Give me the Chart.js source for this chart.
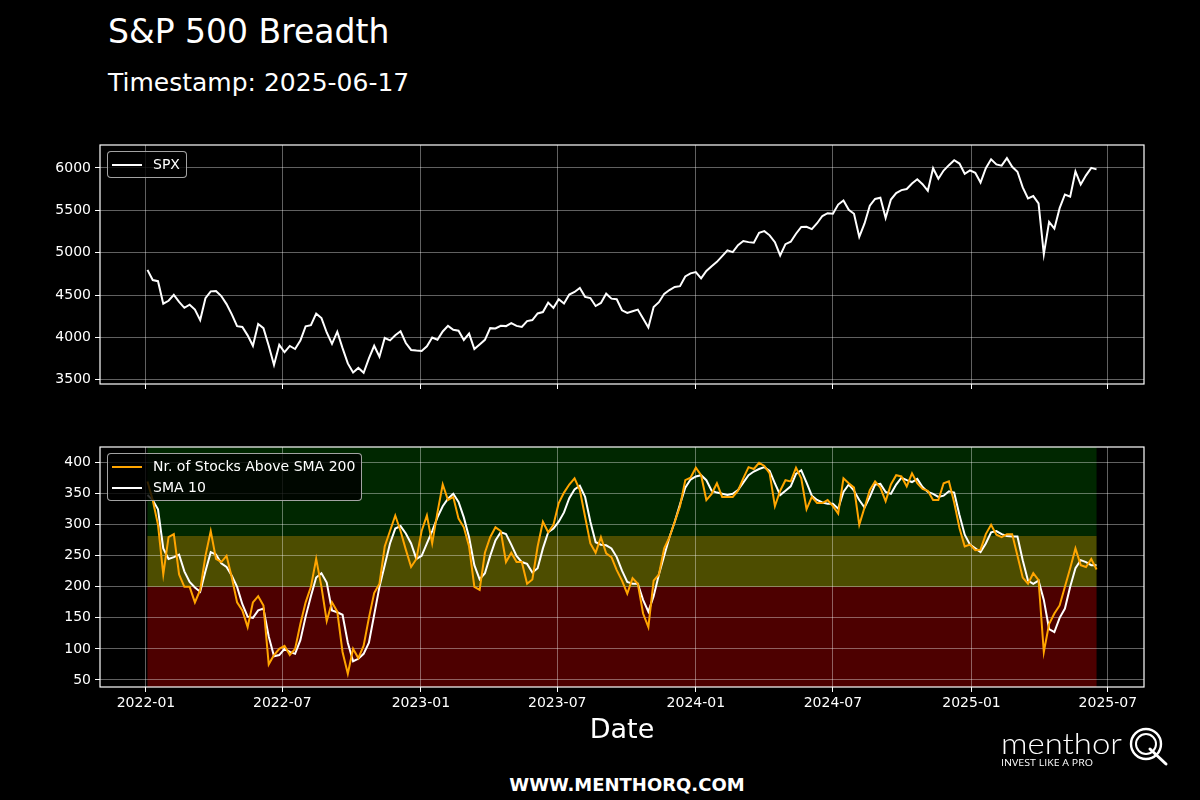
<!DOCTYPE html>
<html>
<head>
<meta charset="utf-8">
<title>S&P 500 Breadth</title>
<script src="https://cdn.jsdelivr.net/npm/chart.js@4.4.1/dist/chart.umd.min.js"></script>
<style>
    html, body { margin: 0; padding: 0; background: #000; }
    body { width: 1200px; height: 800px; position: relative; overflow: hidden; color: #fff; font-family: "DejaVu Sans", sans-serif; }
    .txt { position: absolute; white-space: nowrap; line-height: 1; }
    #title { left: 108px; top: 15px; font-size: 33px; }
    #stamp { left: 108px; top: 70px; font-size: 25px; }
    #xlabel { left: 0; width: 1244px; text-align: center; top: 715px; font-size: 27px; }
    #site { left: 0; width: 1254px; text-align: center; top: 776px; font-size: 18px; font-weight: bold; }
    canvas { position: absolute; left: 0; }
    #spxChart { top: 120px; }
    #breadthChart { top: 420px; }
    .legend { position: absolute; left: 107px; background: rgba(0,0,0,0.8); border: 1px solid rgba(204,204,204,0.8); border-radius: 4px; font-size: 14px; }
    .legend .row { position: relative; height: 21px; line-height: 21px; padding-left: 45px; padding-right: 6px; }
    .legend .row i { position: absolute; left: 4px; top: 10px; width: 30px; height: 2px; }
    #spxLegend { top: 151px; padding: 2px 0; }
    #breadthLegend { top: 453px; padding: 2px 0; }
    #logo { position: absolute; left: 995px; top: 722px; }
</style>
</head>
<body>
<div class="txt" id="title">S&amp;P 500 Breadth</div>
<div class="txt" id="stamp">Timestamp: 2025-06-17</div>

<canvas id="spxChart" width="1200" height="290"></canvas>
<canvas id="breadthChart" width="1200" height="320"></canvas>

<div class="legend" id="spxLegend">
    <div class="row"><i style="background:#fff"></i>SPX</div>
</div>
<div class="legend" id="breadthLegend">
    <div class="row"><i style="background:#FFA500"></i>Nr. of Stocks Above SMA 200</div>
    <div class="row"><i style="background:#fff"></i>SMA 10</div>
</div>

<div class="txt" id="xlabel">Date</div>
<div class="txt" id="site">WWW.MENTHORQ.COM</div>

<svg id="logo" width="180" height="50" viewBox="0 0 180 50">
    <text x="6" y="32" fill="#fff" font-family="Lato, 'Open Sans', sans-serif" font-weight="300" font-size="30" textLength="121" lengthAdjust="spacingAndGlyphs">menthor</text>
    <text x="6" y="44" fill="#fff" font-family="'Open Sans', sans-serif" font-size="8.5" textLength="92" lengthAdjust="spacingAndGlyphs">INVEST LIKE A PRO</text>
    <circle cx="151" cy="22" r="15" fill="none" stroke="#fff" stroke-width="2.4"/>
    <circle cx="151" cy="22" r="10" fill="none" stroke="#fff" stroke-width="2"/>
    <path d="M155 27 L171 42" stroke="#fff" stroke-width="3" stroke-linecap="round"/>
</svg>

<script>
// S&P 500 breadth - weekly samples (Mondays from 2022-01-03)

const firstSample = '2022-01-03';
const stepDays = 7;

// SPX close
const spxWeekly = [
    4797, 4677, 4663, 4398, 4432, 4501, 4419, 4349, 4385, 4329,
    4204, 4463, 4543, 4546, 4488, 4393, 4272, 4132, 4123, 4024,
    3901, 4158, 4109, 3901, 3675, 3912, 3825, 3899, 3863, 3962,
    4130, 4145, 4280, 4228, 4058, 3924, 4067, 3873, 3693, 3586,
    3640, 3583, 3753, 3901, 3771, 3993, 3965, 4026, 4072, 3934,
    3852, 3845, 3840,
    3895, 3999, 3972, 4070, 4136, 4090, 4079, 3970, 4045, 3862,
    3917, 3971, 4109, 4105, 4137, 4133, 4169, 4136, 4124, 4192,
    4205, 4282, 4299, 4410, 4348, 4450, 4399, 4505, 4536, 4582,
    4478, 4464, 4370, 4406, 4516, 4457, 4450, 4320, 4288, 4309,
    4328, 4224, 4117, 4358, 4415, 4514, 4559, 4595, 4604, 4719,
    4755, 4770,
    4697, 4784, 4840, 4891, 4959, 5027, 5006, 5089, 5137, 5124,
    5117, 5234, 5254, 5204, 5123, 4967, 5100, 5128, 5223, 5303,
    5305, 5278, 5347, 5432, 5465, 5460, 5567, 5615, 5505, 5459,
    5186, 5344, 5554, 5634, 5648, 5408, 5626, 5703, 5738, 5751,
    5815, 5865, 5808, 5729, 5996, 5871, 5969, 6032, 6090, 6051,
    5931, 5971,
    5942, 5827, 5997, 6101, 6041, 6026, 6115, 6013, 5955, 5770,
    5639, 5667, 5581, 4982, 5363, 5283, 5525, 5686, 5660, 5958,
    5803, 5912, 6000, 5982
];

// Nr. of stocks above SMA 200
const breadthWeekly = [
    370, 340, 300, 220, 280, 285, 220, 200, 200, 175,
    195, 250, 290, 245, 240, 250, 215, 175, 162, 135,
    175, 185, 170, 75, 90, 100, 105, 90, 100, 140,
    175, 200, 245, 200, 145, 175, 160, 95, 60, 100,
    85, 105, 150, 190, 205, 265, 290, 315, 290, 260,
    232, 245, 290, 315, 270, 320, 365, 340, 345, 310,
    296, 265, 200, 195, 255, 280, 296, 290, 240, 255,
    240, 240, 205, 212, 265, 305, 288, 300, 335, 352,
    365, 375, 356, 313, 270, 255, 280, 254, 248, 227,
    210, 189, 214, 205, 157, 135, 210, 220, 262, 280,
    305, 330, 372, 376, 392, 380, 340, 350, 367, 345,
    345, 345, 355, 375, 393, 390, 400, 395, 383, 330,
    355, 372, 370, 392, 375, 325, 345, 335, 335, 340,
    330, 318, 375, 367, 360, 300, 328, 356, 370, 360,
    338, 365, 380, 378, 362, 383, 367, 358, 355, 340,
    340, 367, 370, 336, 295, 265, 268, 259, 260, 285,
    300, 284, 280, 285, 285, 250, 215, 205, 222, 211,
    95, 140, 157, 170, 200, 230, 262, 235, 232, 245,
    228
];

// SMA 10 of the breadth line
const sma10Weekly = [
    348, 340, 325, 262, 245, 248, 252, 225, 208, 199,
    192, 225, 256, 252, 238, 232, 218, 200, 172, 152,
    150, 162, 165, 120, 88, 90, 100, 95, 92, 114,
    152, 185, 215, 222, 207, 162, 159, 155, 110, 80,
    84, 92, 110, 155, 200, 235, 270, 294, 298, 286,
    270, 245, 250, 270, 290, 312, 330, 342, 350, 337,
    312, 280, 235, 212, 222, 250, 275, 288, 285, 268,
    250, 240, 237, 223, 230, 262, 288, 294, 305, 320,
    343, 357, 363, 345, 305, 272, 268, 267, 262, 248,
    226, 208, 205, 205, 179, 160, 185, 220, 250, 280,
    305, 333, 360, 373, 378, 380, 372, 355, 352, 350,
    348, 350, 356, 368, 380, 386, 390, 393, 387, 367,
    348, 355, 362, 382, 388, 368, 347, 340, 336, 334,
    334, 326, 353, 365, 355, 340, 328, 345, 365, 366,
    353, 350, 365, 376, 372, 369, 374, 361, 353, 350,
    345, 347, 354, 352, 316, 284, 268, 262, 256, 270,
    288, 290, 285, 282, 281, 281, 243, 210, 205, 210,
    179, 132, 127, 150, 165, 200, 230, 243, 240, 235,
    235
];

const xTickLabels = ['2022-01', '2022-07', '2023-01', '2023-07', '2024-01', '2024-07', '2025-01', '2025-07'];
const spxTicks = [3500, 4000, 4500, 5000, 5500, 6000];
const breadthTicks = [50, 100, 150, 200, 250, 300, 350, 400];

// breadth zones: [from, to] in number of stocks
const breadthZones = [[0, 200], [200, 282], [282, 503]];
const zoneColors = ['rgba(255,0,0,0.3)', 'rgba(255,255,0,0.3)', 'rgba(0,128,0,0.3)'];

const DAY = 86400000;
const FONT = { family: 'DejaVu Sans', size: 14 };
const GRID_COLOR = 'rgba(255,255,255,0.38)';

function toTime(s) {
    return Date.parse(s + 'T00:00:00Z');
}

function weekly(values) {
    const t0 = toTime(firstSample);
    return values.map((v, i) => ({ x: t0 + i * stepDays * DAY, y: v }));
}

const tickTimes = xTickLabels.map(l => toTime(l + '-01'));
const tFirst = toTime(firstSample);
const tLast = tFirst + (spxWeekly.length - 1) * stepDays * DAY;
const xMin = tFirst - 0.05 * (tLast - tFirst);
const xMax = tLast + 0.05 * (tLast - tFirst);

// white box around the plot area
const framePlugin = {
    id: 'frame',
    afterDraw(chart) {
        const { ctx, chartArea: a } = chart;
        ctx.save();
        ctx.strokeStyle = '#fff';
        ctx.lineWidth = 1.2;
        ctx.strokeRect(a.left, a.top, a.right - a.left, a.bottom - a.top);
        ctx.restore();
    }
};

// coloured breadth zones, spanning the data's date range
const zonePlugin = {
    id: 'zones',
    beforeDraw(chart) {
        const { ctx, chartArea: a, scales } = chart;
        const x0 = scales.x.getPixelForValue(tFirst);
        const x1 = scales.x.getPixelForValue(tLast);
        ctx.save();
        ctx.beginPath();
        ctx.rect(a.left, a.top, a.right - a.left, a.bottom - a.top);
        ctx.clip();
        breadthZones.forEach((z, i) => {
            const yTop = scales.y.getPixelForValue(z[1]);
            const yBot = scales.y.getPixelForValue(z[0]);
            ctx.fillStyle = zoneColors[i];
            ctx.fillRect(x0, yTop, x1 - x0, yBot - yTop);
        });
        ctx.restore();
    }
};

function xScale(showLabels, height) {
    return {
        type: 'linear',
        min: xMin,
        max: xMax,
        afterBuildTicks: s => { s.ticks = tickTimes.map(v => ({ value: v })); },
        afterFit: s => { s.height = height; },
        border: { display: false },
        grid: { color: GRID_COLOR, lineWidth: 1, tickColor: '#fff', tickLength: 5 },
        ticks: {
            display: showLabels,
            autoSkip: false,
            maxRotation: 0,
            color: '#fff',
            font: FONT,
            padding: 3,
            callback: (v, i) => xTickLabels[i]
        }
    };
}

function yScale(min, max, ticks) {
    return {
        min: min,
        max: max,
        afterBuildTicks: s => { s.ticks = ticks.map(v => ({ value: v })); },
        afterFit: s => { s.width = 100; },
        border: { display: false },
        grid: { color: GRID_COLOR, lineWidth: 1, tickColor: '#fff', tickLength: 5 },
        ticks: { color: '#fff', font: FONT, padding: 4, callback: v => String(v) }
    };
}

const common = {
    responsive: false,
    animation: false,
    events: [],
    devicePixelRatio: 1,
    plugins: { legend: { display: false }, tooltip: { enabled: false } },
    elements: { point: { radius: 0 }, line: { tension: 0 } }
};

// SPX panel
new Chart(document.getElementById('spxChart'), {
    type: 'line',
    data: {
        datasets: [{ label: 'SPX', data: weekly(spxWeekly), borderColor: '#fff', borderWidth: 2 }]
    },
    options: {
        ...common,
        layout: { padding: { top: 25, right: 56, left: 0, bottom: 0 } },
        scales: { x: xScale(false, 26), y: yScale(3450, 6270, spxTicks) }
    },
    plugins: [framePlugin]
});

// breadth panel
new Chart(document.getElementById('breadthChart'), {
    type: 'line',
    data: {
        datasets: [
            { label: 'Nr. of Stocks Above SMA 200', data: weekly(breadthWeekly), borderColor: '#FFA500', borderWidth: 2 },
            { label: 'SMA 10', data: weekly(sma10Weekly), borderColor: '#fff', borderWidth: 2 }
        ]
    },
    options: {
        ...common,
        layout: { padding: { top: 27, right: 56, left: 0, bottom: 0 } },
        scales: { x: xScale(true, 53), y: yScale(38.5, 425.5, breadthTicks) }
    },
    plugins: [zonePlugin, framePlugin]
});
</script>
</body>
</html>
